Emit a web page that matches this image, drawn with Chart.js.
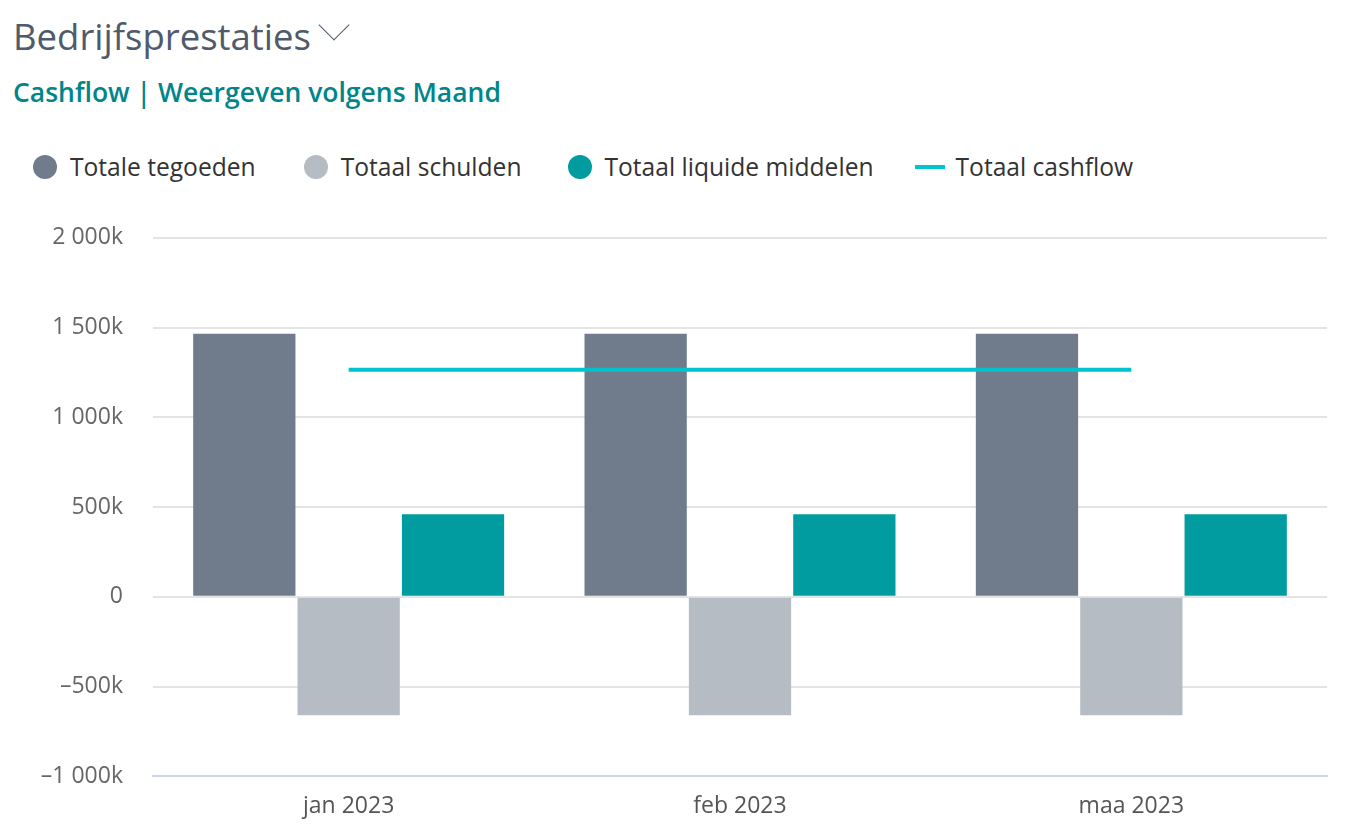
<!DOCTYPE html>
<html>
<head>
<meta charset="utf-8">
<script src="https://cdn.jsdelivr.net/npm/chart.js@4"></script>
<style>
  body { margin: 0; background: #fff; font-family: "Open Sans", sans-serif; }
  #wrap { position: relative; width: 1354px; height: 840px; overflow: hidden; }
  #title { position: absolute; left: 13px; top: 11px; font-size: 36.5px; color: #4f5a6b; }
  #title .chev { display: inline-block; width: 21px; height: 21px; border-right: 1.5px solid #4f5a6b; border-bottom: 1.5px solid #4f5a6b; transform: rotate(45deg); margin-left: 12px; position: relative; top: -14px; }
  #subtitle { position: absolute; left: 13px; top: 74px; font-size: 26.5px; font-weight: 600; color: #00868a; }
  #legend { position: absolute; left: 33px; top: 150px; display: flex; align-items: center; font-size: 24.6px; color: #333; }
  #legend .item { display: flex; align-items: center; margin-right: 48px; }
  #legend .item:nth-child(2) { margin-right: 46px; }
  #legend .item:nth-child(3) { margin-right: 41px; }
  #legend .dot { width: 24px; height: 24px; border-radius: 50%; margin-right: 13px; }
  #legend .line { width: 30px; height: 4px; margin-right: 11px; }
  #chart { position: absolute; left: 0; top: 194px; }
</style>
</head>
<body>
<div id="wrap">
  <div id="title">Bedrijfsprestaties<span class="chev"></span></div>
  <div id="subtitle">Cashflow | Weergeven volgens Maand</div>
  <div id="legend"></div>
  <canvas id="chart" width="1354" height="646"></canvas>
</div>
<script>
// values in thousands
const months = ['jan 2023', 'feb 2023', 'maa 2023'];
const tegoeden = [1465, 1465, 1465];
const schulden = [-660, -660, -660];
const liquide = [460, 460, 460];
const cashflow = [1265, 1265, 1265];

const seriesNames = ['Totale tegoeden', 'Totaal schulden', 'Totaal liquide middelen', 'Totaal cashflow'];
const seriesColors = ['#707b8b', '#b6bcc4', '#009ca0', '#00c3d0'];

const fmt = (v) => {
  if (v === 0) return '0';
  const abs = Math.abs(v);
  let s = abs >= 1000 ? Math.floor(abs / 1000) + ' ' + String(abs % 1000).padStart(3, '0') : String(abs);
  return (v < 0 ? '\u2013' : '') + s + 'k';
};

// html legend
const legendEl = document.getElementById('legend');
seriesNames.forEach((name, i) => {
  const item = document.createElement('div');
  item.className = 'item';
  const mark = document.createElement('span');
  mark.className = i === 3 ? 'line' : 'dot';
  mark.style.background = seriesColors[i];
  item.appendChild(mark);
  item.appendChild(document.createTextNode(name));
  legendEl.appendChild(item);
});

const ctx = document.getElementById('chart');
new Chart(ctx, {
  type: 'bar',
  data: {
    labels: months,
    datasets: [
      {
        type: 'line',
        label: seriesNames[3],
        data: cashflow,
        borderColor: seriesColors[3],
        borderWidth: 4,
        pointRadius: 0,
        fill: false,
        order: 0
      },
      { label: seriesNames[0], data: tegoeden, backgroundColor: seriesColors[0], order: 1 },
      { label: seriesNames[1], data: schulden, backgroundColor: seriesColors[1], order: 1 },
      { label: seriesNames[2], data: liquide, backgroundColor: seriesColors[2], order: 1 }
    ]
  },
  options: {
    responsive: false,
    animation: false,
    datasets: {
      bar: { barPercentage: 0.98, categoryPercentage: 0.8 }
    },
    layout: { padding: { top: 33, right: 27, bottom: 4, left: 0 } },
    plugins: {
      legend: { display: false },
      tooltip: { enabled: false }
    },
    scales: {
      x: {
        grid: { display: false, drawTicks: false },
        border: { color: '#ccd6eb', width: 2 },
        ticks: { color: '#555', padding: 16, font: { family: 'Open Sans', size: 23 } }
      },
      y: {
        min: -1000,
        max: 2000,
        afterFit: (scale) => { scale.width = 153; },
        grid: { color: '#e4e4e4', lineWidth: 2, drawTicks: false },
        border: { display: false },
        ticks: {
          stepSize: 500,
          padding: 30,
          color: '#666',
          font: { family: 'Open Sans', size: 23 },
          callback: (v) => fmt(v)
        }
      }
    }
  }
});
</script>
</body>
</html>
